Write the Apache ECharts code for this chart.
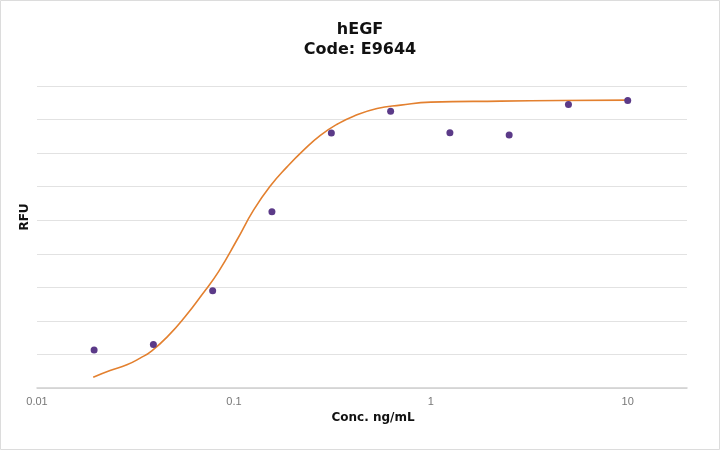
<!DOCTYPE html>
<html>
<head>
<meta charset="utf-8">
<script src="https://cdn.jsdelivr.net/npm/echarts@6/dist/echarts.min.js"></script>
<style>
  html, body { margin: 0; padding: 0; background: #fff; }
  #main { width: 720px; height: 450px; }
</style>
</head>
<body>
<div id="main"></div>
<script type="text/javascript">
// measured points (serial dilution, ng/mL) and RFU in grid units
var conc = [0.0195, 0.039, 0.078, 0.156, 0.3125, 0.625, 1.25, 2.5, 5, 10];
var rfu  = [1.13, 1.30, 2.90, 5.25, 7.60, 8.25, 7.61, 7.54, 8.45, 8.57];

// fitted curve
var fitConc = [0.0193, 0.0235, 0.0286, 0.0334, 0.0383, 0.0465, 0.0566, 0.0688, 0.0836, 0.1036,
               0.1258, 0.1530, 0.1861, 0.2259, 0.2748, 0.3342, 0.4055, 0.533, 0.702, 1.0,
               2.26, 4.56, 10];
var fitRfu  = [0.32, 0.52, 0.69, 0.89, 1.11, 1.56, 2.13, 2.78, 3.47, 4.41,
               5.30, 6.02, 6.59, 7.09, 7.53, 7.86, 8.10, 8.33, 8.43, 8.52,
               8.55, 8.57, 8.58];

var titleText = 'hEGF\nCode: E9644';
var xName = 'Conc. ng/mL';
var yName = 'RFU';

function pairs(xs, ys) {
  var out = [];
  for (var i = 0; i < xs.length; i++) out.push([xs[i], ys[i]]);
  return out;
}

var chart = echarts.init(document.getElementById('main'));
chart.setOption({
  animation: false,
  backgroundColor: '#fff',
  title: {
    text: titleText,
    left: 'center',
    top: 15,
    padding: [5, 13, 5, 5],
    textStyle: {
      fontFamily: 'DejaVu Sans',
      fontSize: 16,
      fontWeight: 'bold',
      color: '#111',
      lineHeight: 20
    }
  },
  graphic: [{
    type: 'rect',
    silent: true,
    shape: { x: 0.5, y: 0.5, width: 719, height: 449 },
    style: { fill: 'none', stroke: '#dcdcdc', lineWidth: 1 }
  }],
  grid: { left: 37, right: 33, top: 86, bottom: 62 },
  xAxis: {
    type: 'log',
    logBase: 10,
    min: 0.01,
    max: 20,
    name: xName,
    nameLocation: 'middle',
    nameGap: 21,
    nameTextStyle: {
      fontFamily: 'DejaVu Sans',
      fontSize: 12,
      fontWeight: 'bold',
      color: '#111',
      padding: [0, 0, 0, 22]
    },
    axisLine: { lineStyle: { color: '#cfcfcf', width: 1.5 } },
    axisTick: { show: false },
    splitLine: { show: false },
    axisLabel: {
      showMaxLabel: false,
      margin: 8,
      fontFamily: 'Liberation Sans',
      fontSize: 11,
      color: '#777'
    }
  },
  yAxis: {
    type: 'value',
    min: 0,
    max: 9,
    interval: 1,
    name: yName,
    nameLocation: 'middle',
    nameGap: 6,
    nameTextStyle: {
      fontFamily: 'DejaVu Sans',
      fontSize: 12,
      fontWeight: 'bold',
      color: '#111',
      padding: [0, 0, 0, 40]
    },
    axisLine: { show: false },
    axisTick: { show: false },
    axisLabel: { show: false },
    splitLine: { lineStyle: { color: '#e2e2e2', width: 1 } }
  },
  series: [{
    type: 'line',
    data: pairs(fitConc, fitRfu),
    smooth: 0.5,
    showSymbol: false,
    lineStyle: { color: '#e3802f', width: 1.6 },
    z: 2
  }, {
    type: 'scatter',
    data: pairs(conc, rfu),
    symbolSize: 7,
    itemStyle: { color: '#5b3a88', opacity: 1 },
    z: 3
  }]
});

window.addEventListener('resize', function() { chart.resize(); });
</script>
</body>
</html>
